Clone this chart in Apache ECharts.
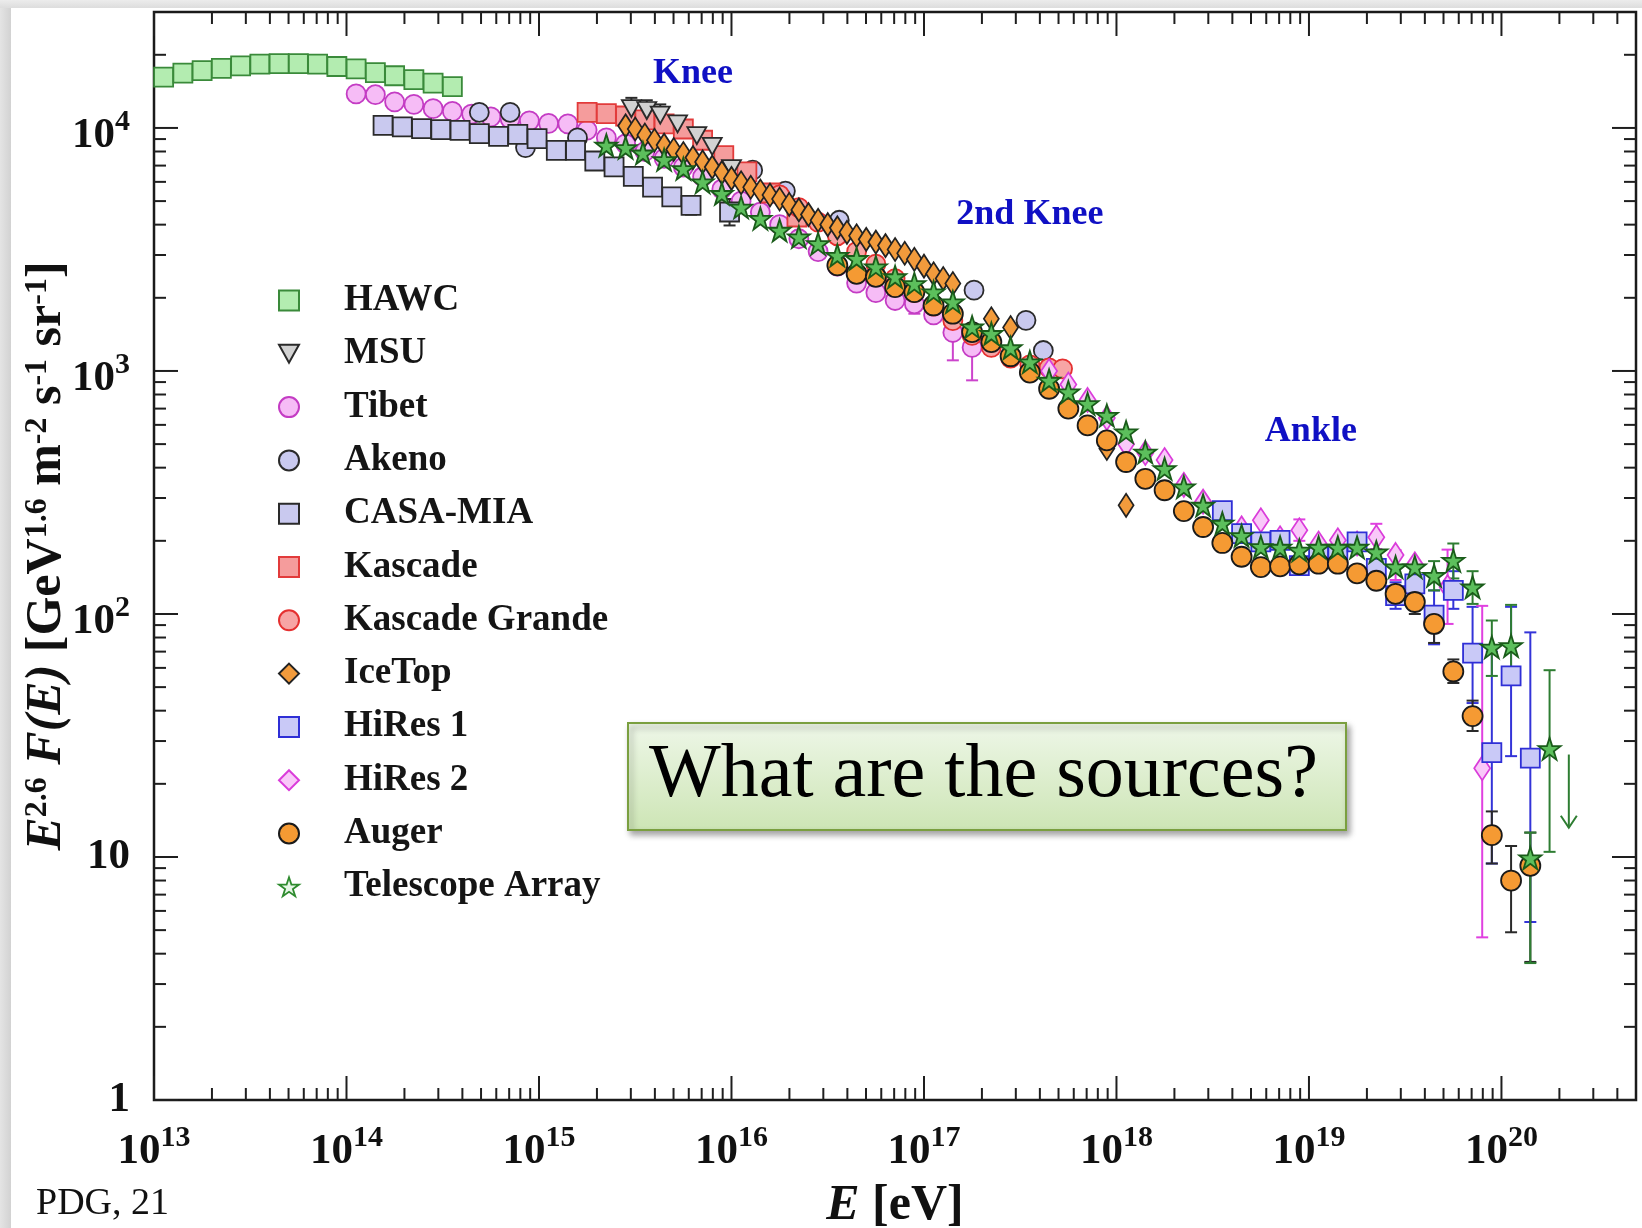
<!DOCTYPE html>
<html>
<head>
<meta charset="utf-8">
<script src="https://cdn.jsdelivr.net/npm/echarts@6/dist/echarts.min.js"></script>
<style>
  html, body { margin: 0; padding: 0; background: #ffffff; }
  #chart { width: 1642px; height: 1228px; }
</style>
</head>
<body>
<div id="chart"></div>
<script>
const SERIF = '"Liberation Serif", "Times New Roman", Times, serif';

// Each point: [log10(E / eV), E^2.6 F(E) in GeV^1.6 m^-2 s^-1 sr^-1]
const HAWC = [[13.05,16200],[13.15,16800],[13.25,17200],[13.35,17600],[13.45,18000],[13.55,18300],[13.65,18400],[13.75,18400],[13.85,18300],[13.95,17900],[14.05,17500],[14.15,16900],[14.25,16400],[14.35,15800],[14.45,15300],[14.55,14800]];
const MSU = [[15.48,12000],[15.56,11800],[15.63,11300],[15.72,10400],[15.82,9300],[15.90,8400],[16.00,6800]];
const TIBET = [[14.05,13800],[14.15,13700],[14.25,12800],[14.35,12500],[14.45,12000],[14.55,11700],[14.65,11400],[14.75,11100],[14.85,10900],[14.95,10700],[15.05,10450],[15.15,10400],[15.25,9800],[15.35,9100],[15.45,8600],[15.55,8000],[15.65,7500],[15.75,6900],[15.85,6300],[15.95,5600],[16.05,5000],[16.15,4500],[16.25,4000],[16.35,3500],[16.45,3100],[16.55,2700],[16.65,2300],[16.75,2100],[16.85,1950],[16.95,1890],[17.05,1700],[17.15,1440],[17.25,1250]];
const AKENO = [[14.69,11600],[14.85,11600],[14.93,8300],[15.20,9100],[16.11,6700],[16.28,5500],[16.56,4170],[17.26,2150],[17.53,1615],[17.62,1214]];
const CASA_MIA = [[14.19,10250],[14.29,10100],[14.39,9930],[14.49,9840],[14.59,9780],[14.69,9470],[14.79,9230],[14.89,9410],[14.99,9040],[15.09,8090],[15.19,8090],[15.29,7310],[15.39,6910],[15.49,6320],[15.59,5710],[15.69,5200],[15.79,4800],[15.99,4510]];
const KASCADE = [[15.25,11600],[15.35,11450],[15.45,11200],[15.55,10800],[15.65,10400],[15.75,9900],[15.85,8900],[15.96,7700],[16.08,6600],[16.20,5400],[16.34,4300]];
const KASCADE_GRANDE = [[16.25,5300],[16.35,4700],[16.45,4100],[16.55,3600],[16.65,3100],[16.75,2750],[16.85,2400],[16.95,2100],[17.05,1850],[17.15,1610],[17.25,1400],[17.35,1250],[17.45,1130],[17.55,1060],[17.65,1030],[17.72,1020]];
const ICETOP = [[15.45,10200],[15.50,9900],[15.55,9350],[15.60,8900],[15.65,8500],[15.70,8150],[15.75,7850],[15.80,7550],[15.85,7250],[15.90,6900],[15.95,6550],[16.00,6200],[16.05,5950],[16.10,5700],[16.15,5500],[16.20,5300],[16.25,5100],[16.30,4850],[16.35,4600],[16.40,4400],[16.45,4170],[16.50,4000],[16.55,3880],[16.60,3720],[16.65,3600],[16.70,3480],[16.75,3390],[16.80,3280],[16.85,3160],[16.90,3050],[16.95,2880],[17.00,2700],[17.05,2510],[17.10,2400],[17.15,2290],[17.35,1640],[17.45,1510],[17.95,480],[18.05,280]];
const HIRES1 = [[18.55,266],[18.65,214],[18.75,198],[18.85,201],[18.95,158],[19.05,172],[19.15,176],[19.25,198],[19.35,154],[19.45,119],[19.55,133],[19.65,99],[19.75,125],[19.85,69],[19.95,26.9],[20.05,55.6],[20.15,25.5]];
const HIRES2 = [[17.65,1000],[17.75,880],[17.85,760],[17.95,640],[18.05,500],[18.15,460],[18.25,430],[18.35,340],[18.45,290],[18.55,255],[18.65,225],[18.75,243],[18.85,205],[18.95,221],[19.05,195],[19.15,201],[19.25,195],[19.35,207],[19.45,175],[19.55,160],[19.72,129],[19.90,23.2]];
const AUGER = [[16.55,2720],[16.65,2510],[16.75,2440],[16.85,2215],[16.95,2110],[17.05,1860],[17.15,1720],[17.25,1445],[17.35,1315],[17.45,1150],[17.55,985],[17.65,845],[17.75,700],[17.85,597],[17.95,518],[18.05,422],[18.15,360],[18.25,323],[18.35,265],[18.45,228],[18.55,196],[18.65,172],[18.75,156],[18.85,157],[18.95,160],[19.05,161],[19.15,161],[19.25,147],[19.35,137],[19.45,121],[19.55,112],[19.65,91],[19.75,58],[19.85,38],[19.95,12.3],[20.05,8.0],[20.15,9.2]];
const TELESCOPE_ARRAY = [[15.35,8480],[15.45,8300],[15.54,7880],[15.65,7400],[15.75,6800],[15.85,5990],[15.95,5370],[16.05,4720],[16.15,4240],[16.25,3790],[16.35,3560],[16.45,3340],[16.55,2990],[16.65,2900],[16.75,2680],[16.85,2440],[16.95,2285],[17.05,2113],[17.15,1923],[17.25,1517],[17.35,1425],[17.45,1245],[17.55,1089],[17.65,915],[17.75,819],[17.85,733],[17.95,656],[18.05,561],[18.15,463],[18.25,396],[18.35,333],[18.45,280],[18.55,236],[18.65,210],[18.75,189],[18.85,188],[18.95,183],[19.05,188],[19.15,188],[19.25,188],[19.35,180],[19.45,156],[19.55,156],[19.65,144],[19.75,166],[19.85,129],[19.95,73],[20.05,74],[20.15,9.9],[20.25,27.9]];

// Error bars: [log10(E), lower, upper]
const MSU_ERR = [[15.48,11000,13300],[15.56,10900,13000],[15.63,10500,12500]];
const TIBET_ERR = [[16.95,1720,2100],[17.15,1106,1650],[17.25,915,1450]];
const CASA_ERR = [[15.79,4400,5200],[15.99,3970,5100]];
const HIRES1_ERR = [[19.45,105,135],[19.65,75,125],[19.75,105,150],[19.85,43,107],[19.95,9.4,70],[20.05,26,107],[20.15,5.4,84]];
const HIRES2_ERR = [[18.95,200,245],[19.35,185,235],[19.45,138,183],[19.72,91,184],[19.90,4.67,108]];
const AUGER_ERR = [[19.55,100,125],[19.65,76,106],[19.75,52,65],[19.85,33,44],[19.95,9.4,15.4],[20.05,4.9,11.1],[20.15,3.7,12.6]];
const TA_ERR = [[19.65,125,165],[19.75,140,195],[19.85,110,150],[19.95,55.6,94],[20.05,58.7,109],[20.15,3.66,12.6],[20.25,10.5,58.7]];
// Upper limit: [log10(E), value, arrow tip]
const TA_LIMIT = [[20.35,26.4,13.2]];

// Spectral features
const featureText = ['Knee', '2nd Knee', 'Ankle'];
const featureLogE = [15.80, 17.55, 19.01];
const featureFlux = [16750, 4380, 563];

// Axis ranges and tick positions
const X_MIN = 1e13, X_MAX = 5e20, Y_MIN = 1, Y_MAX = 3e4;
const xDecades = [13, 14, 15, 16, 17, 18, 19, 20];
const yDecades = [0, 1, 2, 3, 4];
const minorSteps = [2, 3, 4, 5, 6, 7, 8, 9];

const legendOrder = ['HAWC', 'MSU', 'Tibet', 'Akeno', 'CASA-MIA', 'Kascade', 'Kascade Grande', 'IceTop', 'HiRes 1', 'HiRes 2', 'Auger', 'Telescope Array'];

const STAR = 'path://M50,2 L61.8,37.6 L99,37.6 L69,59.6 L80.5,95 L50,73.2 L19.5,95 L31,59.6 L1,37.6 L38.2,37.6 Z';
const DOWN_TRIANGLE = 'path://M0,0 L20,0 L10,18 Z';

const markerStyle = {
  'HAWC':            { symbol: 'rect', size: 19, fill: '#b3ecb0', stroke: '#3a8a3a', z: 2 },
  'MSU':             { symbol: DOWN_TRIANGLE, size: [19, 17], fill: '#d2d2d2', stroke: '#2a2a2a', z: 7 },
  'Tibet':           { symbol: 'circle', size: 19, fill: '#f6bcf6', stroke: '#c43cc4', z: 3 },
  'Akeno':           { symbol: 'circle', size: 19, fill: '#c9c9ef', stroke: '#2a2a2a', z: 4 },
  'CASA-MIA':        { symbol: 'rect', size: 19, fill: '#c9c9ef', stroke: '#2a2a2a', z: 5 },
  'Kascade':         { symbol: 'rect', size: 19, fill: '#f59c9c', stroke: '#e23b3b', z: 6 },
  'Kascade Grande':  { symbol: 'circle', size: 19, fill: '#f7a5a5', stroke: '#e53030', z: 8 },
  'IceTop':          { symbol: 'diamond', size: [15, 23], fill: '#f29b3c', stroke: '#222222', z: 9 },
  'HiRes 1':         { symbol: 'rect', size: 19, fill: '#c9c9f7', stroke: '#2f2fd6', z: 11 },
  'HiRes 2':         { symbol: 'diamond', size: [16, 24], fill: '#f9c8f9', stroke: '#da3cda', z: 10 },
  'Auger':           { symbol: 'circle', size: 20, fill: '#f59a33', stroke: '#1a1a1a', z: 12 },
  'Telescope Array': { symbol: STAR, size: 22, fill: '#5cbf5c', stroke: '#1a5c1a', z: 13 }
};

const seriesData = {
  'HAWC': HAWC, 'MSU': MSU, 'Tibet': TIBET, 'Akeno': AKENO, 'CASA-MIA': CASA_MIA,
  'Kascade': KASCADE, 'Kascade Grande': KASCADE_GRANDE, 'IceTop': ICETOP,
  'HiRes 1': HIRES1, 'HiRes 2': HIRES2, 'Auger': AUGER, 'Telescope Array': TELESCOPE_ARRAY
};

const toE = lg => Math.pow(10, lg);

function markerSeries(name) {
  const st = markerStyle[name];
  return {
    name: name,
    type: 'scatter',
    z: st.z,
    data: seriesData[name].map(([lg, f]) => [toE(lg), f]),
    symbol: st.symbol,
    symbolSize: st.size,
    symbolKeepAspect: false,
    itemStyle: { color: st.fill, borderColor: st.stroke, borderWidth: 1.8, opacity: 1 },
    emphasis: { disabled: true },
    silent: true
  };
}

function errorSeries(rows, color) {
  return {
    type: 'custom',
    z: 1,
    silent: true,
    coordinateSystem: 'cartesian2d',
    encode: { x: 0, y: [1, 2] },
    data: rows.map(([lg, lo, hi]) => [toE(lg), lo, hi]),
    renderItem: function (params, api) {
      const x = api.value(0);
      const a = api.coord([x, api.value(1)]);
      const b = api.coord([x, api.value(2)]);
      const w = 6;
      const st = { stroke: color, lineWidth: 2 };
      return {
        type: 'group',
        children: [
          { type: 'line', shape: { x1: a[0], y1: a[1], x2: b[0], y2: b[1] }, style: st },
          { type: 'line', shape: { x1: a[0] - w, y1: a[1], x2: a[0] + w, y2: a[1] }, style: st },
          { type: 'line', shape: { x1: b[0] - w, y1: b[1], x2: b[0] + w, y2: b[1] }, style: st }
        ]
      };
    }
  };
}

function limitSeries(rows, color) {
  return {
    type: 'custom',
    z: 1,
    silent: true,
    coordinateSystem: 'cartesian2d',
    encode: { x: 0, y: [1, 2] },
    data: rows.map(([lg, v, tip]) => [toE(lg), v, tip]),
    renderItem: function (params, api) {
      const x = api.value(0);
      const a = api.coord([x, api.value(1)]);
      const b = api.coord([x, api.value(2)]);
      const st = { stroke: color, lineWidth: 2, fill: null };
      return {
        type: 'group',
        children: [
          { type: 'line', shape: { x1: a[0], y1: a[1], x2: b[0], y2: b[1] }, style: st },
          { type: 'polyline', shape: { points: [[b[0] - 8, b[1] - 12], [b[0], b[1]], [b[0] + 8, b[1] - 12]] }, style: st }
        ]
      };
    }
  };
}

// Tick marks on all four sides (major at decades, minor at 2..9)
const xTicks = [];
xDecades.forEach(d => {
  xTicks.push([toE(d), Y_MIN, 1]);
  minorSteps.forEach(m => { const v = m * toE(d); if (v < X_MAX) xTicks.push([v, Y_MIN, 0]); });
});
const yTicks = [];
yDecades.forEach(d => {
  yTicks.push([X_MIN, toE(d), 1]);
  minorSteps.forEach(m => { const v = m * toE(d); if (v < Y_MAX) yTicks.push([X_MIN, v, 0]); });
});

const TICK_MAJOR = 24, TICK_MINOR = 12, TICK_COLOR = '#1e1e1e';

const xTickSeries = {
  type: 'custom', z: 20, silent: true, coordinateSystem: 'cartesian2d',
  encode: { x: 0, y: 1 },
  data: xTicks,
  renderItem: function (params, api) {
    const cs = params.coordSys;
    const x = api.coord([api.value(0), Y_MIN])[0];
    const len = api.value(2) ? TICK_MAJOR : TICK_MINOR;
    const bot = cs.y + cs.height, top = cs.y;
    const st = { stroke: TICK_COLOR, lineWidth: 2 };
    return { type: 'group', children: [
      { type: 'line', shape: { x1: x, y1: bot, x2: x, y2: bot - len }, style: st },
      { type: 'line', shape: { x1: x, y1: top, x2: x, y2: top + len }, style: st }
    ] };
  }
};

const yTickSeries = {
  type: 'custom', z: 20, silent: true, coordinateSystem: 'cartesian2d',
  encode: { x: 0, y: 1 },
  data: yTicks,
  renderItem: function (params, api) {
    const cs = params.coordSys;
    const y = api.coord([X_MIN, api.value(1)])[1];
    const len = api.value(2) ? TICK_MAJOR : TICK_MINOR;
    const left = cs.x, right = cs.x + cs.width;
    const st = { stroke: TICK_COLOR, lineWidth: 2 };
    return { type: 'group', children: [
      { type: 'line', shape: { x1: left, y1: y, x2: left + len, y2: y }, style: st },
      { type: 'line', shape: { x1: right, y1: y, x2: right - len, y2: y }, style: st }
    ] };
  }
};

// Feature names placed at their (E, flux) positions
const featureSeries = {
  type: 'custom',
  z: 15,
  silent: true,
  coordinateSystem: 'cartesian2d',
  encode: { x: 0, y: 1 },
  data: featureText.map((t, i) => [toE(featureLogE[i]), featureFlux[i], i]),
  renderItem: function (params, api) {
    const p = api.coord([api.value(0), api.value(1)]);
    return {
      type: 'text',
      x: p[0], y: p[1],
      style: {
        text: featureText[api.value(2)],
        fontFamily: SERIF, fontWeight: 'bold', fontSize: 36,
        fill: '#1010c4', textAlign: 'center', textVerticalAlign: 'middle', verticalAlign: 'middle'
      }
    };
  }
};

// "10" sits low in its line, the exponent is lifted above it
const labelRich = {
  b: { fontFamily: SERIF, fontWeight: 'bold', fontSize: 43, color: '#111111', verticalAlign: 'bottom', padding: [16, 0, 0, 0] },
  n: { fontFamily: SERIF, fontWeight: 'bold', fontSize: 43, color: '#111111' },
  s: { fontFamily: SERIF, fontWeight: 'bold', fontSize: 30, color: '#111111', verticalAlign: 'bottom', padding: [0, 0, 20, 0] }
};

function decadeOf(v) {
  const l = Math.log10(v);
  const r = Math.round(l);
  return Math.abs(l - r) < 1e-6 ? r : null;
}

const series = [
  errorSeries(MSU_ERR, '#2a2a2a'),
  errorSeries(TIBET_ERR, '#cc44cc'),
  errorSeries(CASA_ERR, '#2a2a2a'),
  errorSeries(HIRES1_ERR, '#3434d8'),
  errorSeries(HIRES2_ERR, '#e040e0'),
  errorSeries(AUGER_ERR, '#2a2a2a'),
  errorSeries(TA_ERR, '#2e7d32'),
  limitSeries(TA_LIMIT, '#2e7d32')
].concat(legendOrder.map(markerSeries)).concat([featureSeries, xTickSeries, yTickSeries]);

const legendItems = legendOrder.map(name =>
  name === 'Telescope Array'
    ? { name: name, itemStyle: { color: '#e6f6e6', borderColor: '#2e8b2e', borderWidth: 1.8 } }
    : { name: name });

const option = {
  animation: false,
  backgroundColor: '#ffffff',
  grid: {
    left: 154, right: 6, top: 12, bottom: 128,
    show: true, borderColor: '#1a1a1a', borderWidth: 2.5, backgroundColor: 'transparent',
    containLabel: false, outerBoundsMode: 'none'
  },
  xAxis: {
    type: 'log', logBase: 10, min: X_MIN, max: X_MAX, splitNumber: 8,
    axisLine: { show: false }, axisTick: { show: false }, splitLine: { show: false },
    axisLabel: {
      margin: 14, showMaxLabel: false,
      formatter: v => { const d = decadeOf(v); return d === null ? '' : '{b|10}{s|' + d + '}'; },
      rich: labelRich
    },
    name: '{i|E}{b| [eV]}', nameLocation: 'middle', nameGap: 81, nameMoveOverlap: false,
    nameTextStyle: {
      rich: {
        i: { fontFamily: SERIF, fontStyle: 'italic', fontWeight: 'bold', fontSize: 50, color: '#111111' },
        b: { fontFamily: SERIF, fontWeight: 'bold', fontSize: 50, color: '#111111' }
      }
    }
  },
  yAxis: {
    type: 'log', logBase: 10, min: Y_MIN, max: Y_MAX, splitNumber: 5,
    axisLine: { show: false }, axisTick: { show: false }, splitLine: { show: false },
    axisLabel: {
      margin: 24, showMaxLabel: false,
      formatter: v => {
        const d = decadeOf(v);
        if (d === null) return '';
        if (d === 0) return '{n|1}';
        if (d === 1) return '{n|10}';
        return '{b|10}{s|' + d + '}';
      },
      rich: labelRich
    },
    name: '{i|E}{s|2.6}{i| F(E)}{b| [GeV}{s|1.6}{b| m}{s|-2}{b| s}{s|-1}{b| sr}{s|-1}{b|]}',
    nameLocation: 'middle', nameRotate: 90, nameGap: 82, nameMoveOverlap: false,
    nameTextStyle: {
      rich: {
        i: { fontFamily: SERIF, fontStyle: 'italic', fontWeight: 'bold', fontSize: 50, color: '#111111' },
        b: { fontFamily: SERIF, fontWeight: 'bold', fontSize: 50, color: '#111111' },
        s: { fontFamily: SERIF, fontWeight: 'bold', fontSize: 32, color: '#111111', verticalAlign: 'top' }
      }
    }
  },
  legend: {
    orient: 'vertical', left: 278, top: 282, padding: 0,
    itemWidth: 20, itemHeight: 20, itemGap: 16.3,
    selectedMode: false,
    data: legendItems,
    textStyle: { fontFamily: SERIF, fontWeight: 'bold', fontSize: 37, color: '#151515', padding: [0, 0, 0, 40] }
  },
  graphic: [
    { type: 'rect', z: 100, shape: { x: 0, y: 0, width: 11, height: 1228 },
      style: { fill: new echarts.graphic.LinearGradient(0, 0, 1, 0, [{ offset: 0, color: '#e4e4e4' }, { offset: 1, color: '#d2d2d2' }]) } },
    { type: 'rect', z: 100, shape: { x: 0, y: 0, width: 1642, height: 8 },
      style: { fill: new echarts.graphic.LinearGradient(0, 0, 0, 1, [{ offset: 0, color: '#ececec' }, { offset: 1, color: '#dddddd' }]) } },
    { type: 'rect', z: 50, shape: { x: 628, y: 723, width: 718, height: 107 },
      style: {
        fill: new echarts.graphic.LinearGradient(0, 0, 0, 1, [{ offset: 0, color: '#eef7e8' }, { offset: 1, color: '#cde5b5' }]),
        stroke: '#7a9f3f', lineWidth: 2,
        shadowBlur: 6, shadowOffsetX: 3, shadowOffsetY: 4, shadowColor: 'rgba(0,0,0,0.35)'
      } },
    { type: 'text', z: 51, x: 649, y: 776,
      style: { text: 'What are the sources?', fontFamily: SERIF, fontSize: 76, fill: '#000000',
               textAlign: 'left', textVerticalAlign: 'middle', verticalAlign: 'middle' } },
    { type: 'text', z: 51, x: 36, y: 1204,
      style: { text: 'PDG, 21', fontFamily: SERIF, fontSize: 38, fill: '#111111',
               textAlign: 'left', textVerticalAlign: 'middle', verticalAlign: 'middle' } }
  ],
  series: series
};

const chart = echarts.init(document.getElementById('chart'), null, { renderer: 'canvas' });
chart.setOption(option);
</script>
</body>
</html>
